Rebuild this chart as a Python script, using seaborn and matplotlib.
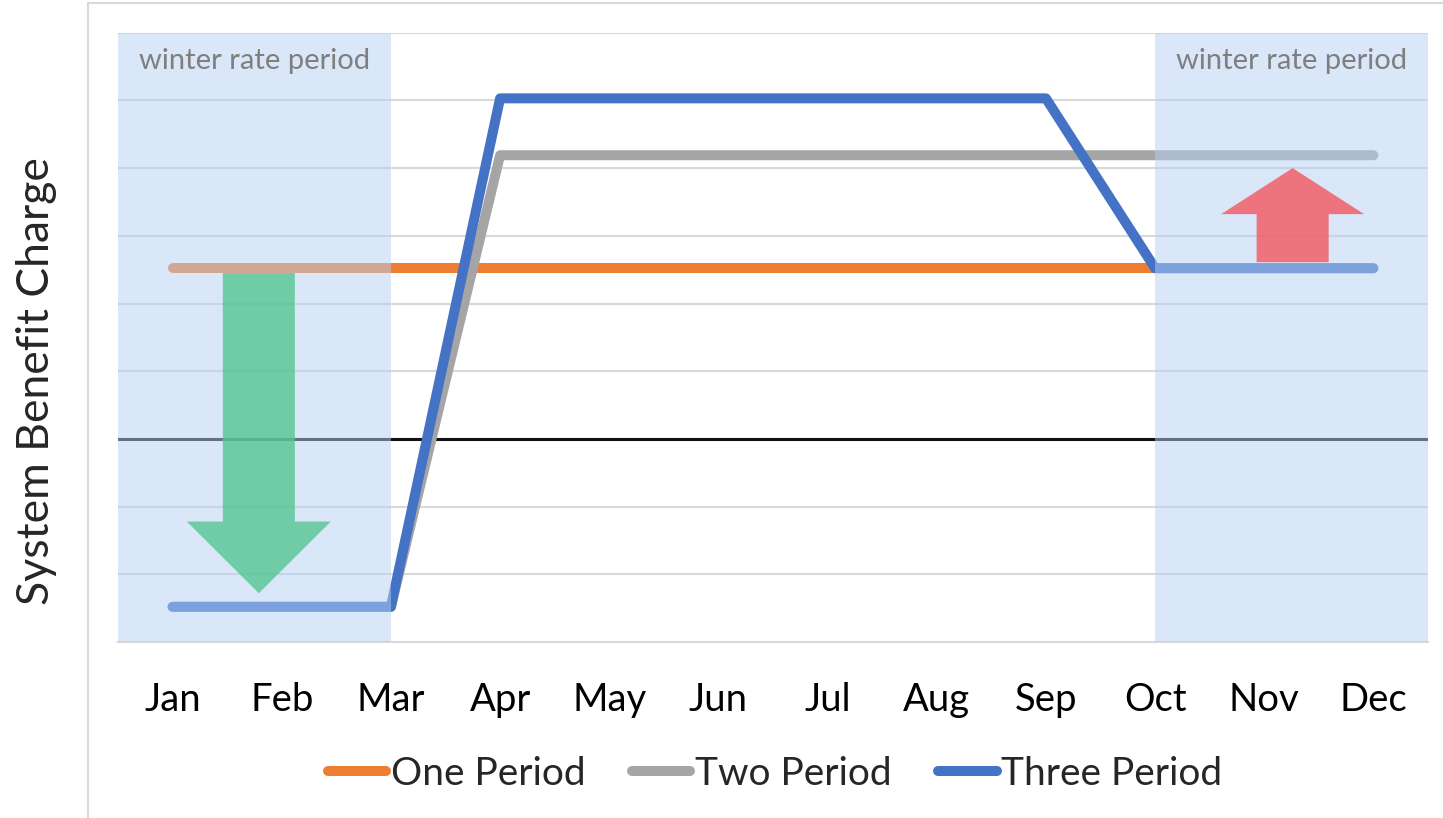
import matplotlib
matplotlib.use("Agg")
import matplotlib.pyplot as plt
from matplotlib.lines import Line2D
from matplotlib.patches import FancyArrow, Rectangle
import numpy as np
import pandas as pd
import seaborn as sns

# values (arbitrary units, no y tick labels in the original)
months = ["Jan", "Feb", "Mar", "Apr", "May", "Jun", "Jul", "Aug", "Sep", "Oct", "Nov", "Dec"]
one_period = [5.52, 5.52, 5.52, 5.52, 5.52, 5.52, 5.52, 5.52, 5.52, 5.52, 5.52, 5.52]
two_period = [0.52, 0.52, 0.52, 7.19, 7.19, 7.19, 7.19, 7.19, 7.19, 7.19, 7.19, 7.19]
three_period = [0.52, 0.52, 0.52, 8.03, 8.03, 8.03, 8.03, 8.03, 8.03, 5.52, 5.52, 5.52]
series_names = ["One Period", "Two Period", "Three Period"]
series_colors = ["#ED7D31", "#A5A5A5", "#4472C4"]
reference_level = 3.0
winter_periods = [(-0.5, 2.0), (9.0, 11.5)]   # month index spans shaded as winter
winter_label = "winter rate period"

sns.set_style("white")
plt.rcParams["font.family"] = ["Lato", "DejaVu Sans"]

df = pd.DataFrame({
    "month": np.tile(np.arange(len(months)), 3),
    "value": one_period + two_period + three_period,
    "series": np.repeat(series_names, len(months)),
})

fig = plt.figure(figsize=(14.43, 8.18), dpi=100)
ax = fig.add_axes([118 / 1443, 1 - 642 / 818, (1428 - 118) / 1443, (642 - 32.7) / 818])

grid_col = "#D9D9D9"
for lvl in range(1, 10):
    ax.axhline(lvl, color=grid_col, lw=1.5, zorder=0.5)

ax.axhline(reference_level, color="#111111", lw=2.2, zorder=1)

sns.lineplot(data=df, x="month", y="value", hue="series", hue_order=series_names,
             palette=series_colors, linewidth=7.2, legend=False, ax=ax,
             solid_capstyle="round", solid_joinstyle="round", zorder=2)

# winter shading sits on top of the lines, semi transparent
for x0, x1 in winter_periods:
    ax.axvspan(x0, x1, color="#B7D1F5", alpha=0.5, lw=0, zorder=3)
    ax.text((x0 + x1) / 2, 8.58, winter_label, ha="center", va="center",
            fontsize=21, color="#7F7F7F", zorder=6)

# arrows: down from one period to the low winter price, up in late year
ax.add_patch(FancyArrow(0.79, 5.45, 0, 0.72 - 5.45, width=0.66, head_width=1.32,
                        head_length=1.06, length_includes_head=True,
                        color="#54C691", alpha=0.8, lw=0, zorder=4))
ax.add_patch(FancyArrow(10.26, 5.61, 0, 7.0 - 5.61, width=0.66, head_width=1.31,
                        head_length=0.68, length_includes_head=True,
                        color="#F3585F", alpha=0.8, lw=0, zorder=4))

ax.set_xlim(-0.5, len(months) - 0.5)
ax.set_ylim(0, 9)
ax.set_xticks(np.arange(len(months)))
ax.set_xticklabels(months, fontsize=27.5)
ax.set_xticks(np.arange(len(months) + 1) - 0.5, minor=True)
ax.tick_params(axis="x", which="major", length=0, pad=29, colors="black")
ax.tick_params(axis="x", which="minor", length=8, width=1.5, color=grid_col)
ax.set_yticks([])
ax.set_xlabel("")
ax.set_ylabel("")
for side in ["left", "right", "top"]:
    ax.spines[side].set_visible(False)
ax.spines["bottom"].set_color(grid_col)
ax.spines["bottom"].set_linewidth(1.5)

fig.text(37 / 1443, 1 - 381 / 818, "System Benefit Charge", rotation=90,
         ha="center", va="center", fontsize=32)

handles = [Line2D([0], [0], color=c, lw=7.2, solid_capstyle="round") for c in series_colors]
fig.legend(handles, series_names, loc="center", bbox_to_anchor=(775 / 1443, 1 - 774 / 818),
           ncol=3, frameon=False, fontsize=28, handlelength=1.5, handletextpad=0.12,
           columnspacing=1.2)

# outer chart border
fig.patches.append(Rectangle((88 / 1443, -0.1), 1.0, 1.1 - 3 / 818, transform=fig.transFigure,
                             fill=False, edgecolor=grid_col, lw=1.5, figure=fig))

fig.savefig("out.png", dpi=100)
